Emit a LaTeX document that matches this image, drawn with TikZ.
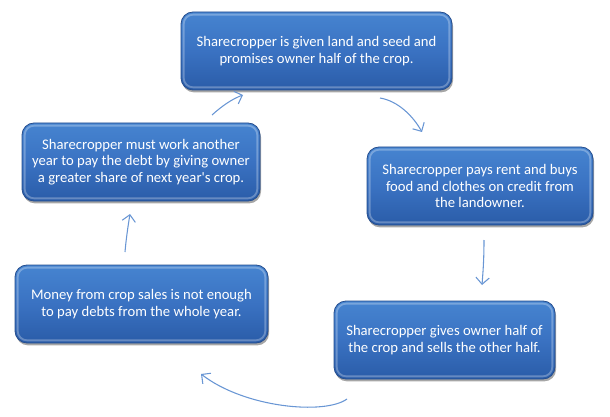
\documentclass[tikz,border=0pt]{standalone}
\usepackage{fontspec}
\setmainfont{Carlito}
\usetikzlibrary{arrows.meta,shadows}
\definecolor{boxtop}{RGB}{70,132,208}
\definecolor{boxmid}{RGB}{58,114,194}
\definecolor{boxbot}{RGB}{42,92,168}
\definecolor{boxline}{RGB}{38,78,142}
\definecolor{arrowblue}{RGB}{105,150,212}
\tikzset{
  stagebox/.style={
    draw=boxline, line width=0.6pt, rounded corners=9pt,
    top color=boxtop, bottom color=boxbot, middle color=boxmid,
    minimum height=58.5pt, inner sep=2pt,
    text=white, align=center, font=\fontsize{11}{12.2}\selectfont,
    drop shadow={shadow xshift=0.8pt, shadow yshift=-1.8pt, fill=black, opacity=0.35},
    path picture={
      \draw[white, opacity=0.28, line width=1.4pt, rounded corners=7pt]
        ([shift={(2pt,-2pt)}]path picture bounding box.north west) rectangle
        ([shift={(-2pt,2pt)}]path picture bounding box.south east);
    }
  },
  cyclearrow/.style={
    draw=arrowblue, line width=0.8pt,
    -{Straight Barb[length=5pt,width=10pt,line width=0.8pt]}
  }
}
\begin{document}
\begin{tikzpicture}[x=0.75pt,y=-0.75pt]
\useasboundingbox (0,0) rectangle (610,417);
\node[stagebox, minimum width=203.25pt] (b1) at (316.5,51)
  {Sharecropper is given land and seed and\\promises owner half of the crop.};
\node[stagebox, minimum width=169.5pt] (b2) at (480,186)
  {Sharecropper pays rent and buys\\food and clothes on credit from\\the landowner.};
\node[stagebox, minimum width=165.75pt] (b3) at (444.5,340)
  {Sharecropper gives owner half of\\the crop and sells the other half.};
\node[stagebox, minimum width=189.75pt] (b4) at (141.5,304)
  {Money from crop sales is not enough\\to pay debts from the whole year.};
\node[stagebox, minimum width=178.5pt] (b5) at (141,162)
  {Sharecropper must work another\\year to pay the debt by giving owner\\a greater share of next year\textquotesingle s crop.};

\coordinate (a1s) at (380,98);   \coordinate (a1e) at (422,132);
\coordinate (a2s) at (484,240);  \coordinate (a2e) at (482,285);
\coordinate (a3s) at (347,399);  \coordinate (a3e) at (201,374);
\coordinate (a4s) at (125,252);  \coordinate (a4e) at (130,214);
\coordinate (a5s) at (212,115);  \coordinate (a5e) at (243,95);

\draw[cyclearrow] (a1s) .. controls (398,101) and (413,116) .. (a1e);
\draw[cyclearrow] (a2s) .. controls (484,260) and (483,272) .. (a2e);
\draw[cyclearrow] (a3s) .. controls (325,415) and (245,408) .. (a3e);
\draw[cyclearrow] (a4s) .. controls (126,240) and (128,226) .. (a4e);
\draw[cyclearrow] (a5s) .. controls (222,106) and (232,99) .. (a5e);
\end{tikzpicture}
\end{document}
